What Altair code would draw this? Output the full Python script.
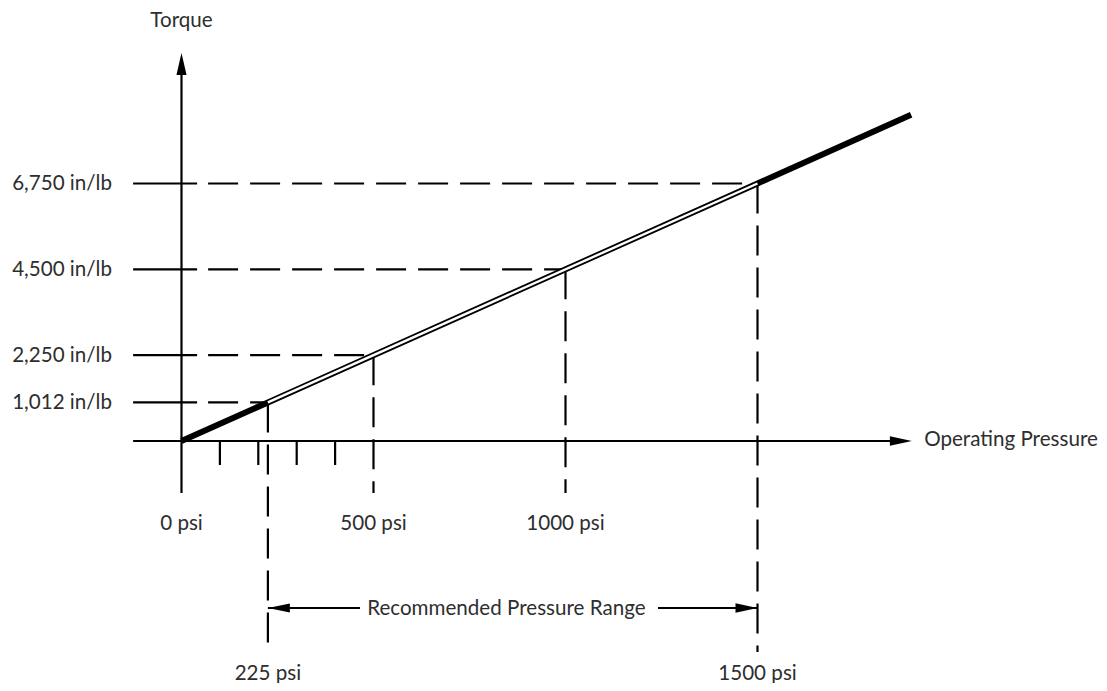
import altair as alt
import pandas as pd

# ---------------- data ----------------
mark_pressure = [225, 500, 1000, 1500]          # psi
mark_torque = [1012, 2250, 4500, 6750]          # in/lb
torque_labels = ["1,012 in/lb", "2,250 in/lb", "4,500 in/lb", "6,750 in/lb"]
minor_ticks = [100, 200, 300, 400]               # psi
upper_psi = [0, 500, 1000]
upper_psi_labels = ["0 psi", "500 psi", "1000 psi"]
lower_psi = [225, 1500]
lower_psi_labels = ["225 psi", "1500 psi"]
curve_pressure = [0, 225, 1500, 1900]
curve_torque = [0, 1012, 6750, 8550]
range_low, range_high = 225, 1500

# ---------------- layout constants (data units) ----------------
XMIN, XMAX = -451.8, 2389.3
YMIN, YMAX = -6343, 11350
AX_LEFT = -126          # left end of x axis / dashed guides
AX_RIGHT = 1902         # x arrow tip
AX_BOTTOM = -1363       # bottom of y axis
AX_TOP = 10170          # y arrow tip
TICK_BOTTOM = -629
LONG_BOTTOM = -5531
ARROW_Y = -4377
INK = "black"
TXT = "#2e2e2e"
FONT = "Lato"
FS = 20.6

xs = alt.Scale(domain=[XMIN, XMAX], nice=False, zero=False)
ys = alt.Scale(domain=[YMIN, YMAX], nice=False, zero=False)


def X(f="p"):
    return alt.X(f + ":Q", scale=xs, axis=None)


def Y(f="t"):
    return alt.Y(f + ":Q", scale=ys, axis=None)


# axes
axes_df = pd.DataFrame({
    "p": [AX_LEFT, 0], "t": [0, AX_BOTTOM],
    "p2": [AX_RIGHT - 40, 0], "t2": [0, AX_TOP - 400],
})
axes = alt.Chart(axes_df).mark_rule(color=INK, strokeWidth=2.2).encode(
    x=X(), y=Y(), x2="p2:Q", y2="t2:Q")

ticks_df = pd.DataFrame({"p": minor_ticks, "t": [0] * 4, "t2": [TICK_BOTTOM] * 4})
ticks = alt.Chart(ticks_df).mark_rule(color=INK, strokeWidth=2.2).encode(
    x=X(), y=Y(), y2="t2:Q")

dash_h = [64, 11] + [30, 12] * 30
hdf = pd.DataFrame({"p": [AX_LEFT] * 4, "p2": mark_pressure, "t": mark_torque})
hdash = alt.Chart(hdf).mark_rule(color=INK, strokeWidth=2.2, strokeDash=dash_h).encode(
    x=X(), x2="p2:Q", y=Y())

vdf = pd.DataFrame({
    "p": mark_pressure, "t": mark_torque,
    "t2": [LONG_BOTTOM, AX_BOTTOM, AX_BOTTOM, LONG_BOTTOM],
})
vdash = alt.Chart(vdf).mark_rule(color=INK, strokeWidth=2.2, strokeDash=[30, 12]).encode(
    x=X(), y=Y(), y2="t2:Q")

cdf = pd.DataFrame({"p": curve_pressure, "t": curve_torque})
curve = alt.Chart(cdf).mark_line(color=INK, strokeWidth=6, strokeCap="butt").encode(
    x=X(), y=Y(), order="p:Q")
idf = cdf[(cdf.p >= range_low) & (cdf.p <= range_high)]
inner = alt.Chart(idf).mark_line(color="white", strokeWidth=2.4, strokeCap="butt").encode(
    x=X(), y=Y(), order="p:Q")

# range arrow shafts
sdf = pd.DataFrame({"p": [range_low, 1241], "p2": [465, range_high], "t": [ARROW_Y, ARROW_Y]})
shafts = alt.Chart(sdf).mark_rule(color=INK, strokeWidth=2.2).encode(
    x=X(), x2="p2:Q", y=Y())

HEAD = 1936
right_heads = alt.Chart(pd.DataFrame({"p": [AX_RIGHT, range_high], "t": [0, ARROW_Y]})).mark_point(
    shape="M0,0L-1,-0.22L-1,0.22Z", filled=True, color=INK, opacity=1, size=HEAD, strokeWidth=0
).encode(x=X(), y=Y())
left_heads = alt.Chart(pd.DataFrame({"p": [range_low], "t": [ARROW_Y]})).mark_point(
    shape="M0,0L1,-0.2L1,0.2Z", filled=True, color=INK, opacity=1, size=HEAD, strokeWidth=0
).encode(x=X(), y=Y())
up_heads = alt.Chart(pd.DataFrame({"p": [0], "t": [AX_TOP]})).mark_point(
    shape="M0,0L-0.23,1L0.23,1Z", filled=True, color=INK, opacity=1, size=HEAD, strokeWidth=0
).encode(x=X(), y=Y())

# texts
def text_layer(df, align, dy=0):
    return alt.Chart(df).mark_text(
        font=FONT, fontSize=FS, color=TXT, align=align, baseline="alphabetic", dy=dy
    ).encode(x=X(), y=Y(), text="label:N")


ylab = text_layer(pd.DataFrame({"p": [-181] * 4, "t": mark_torque, "label": torque_labels}), "right", 7)
uplab = text_layer(pd.DataFrame({"p": upper_psi, "t": [-2333] * 3, "label": upper_psi_labels}), "center")
lowlab = text_layer(pd.DataFrame({"p": lower_psi, "t": [-6265] * 2, "label": lower_psi_labels}), "center")
torque_t = text_layer(pd.DataFrame({"p": [0], "t": [10860], "label": ["Torque"]}), "center")
op_t = text_layer(pd.DataFrame({"p": [1934], "t": [0], "label": ["Operating Pressure"]}), "left", 5)
rec_t = text_layer(pd.DataFrame({"p": [846], "t": [ARROW_Y], "label": ["Recommended Pressure Range"]}), "center", 7)

chart = alt.layer(
    hdash, vdash, ticks, axes, shafts, curve, inner,
    right_heads, left_heads, up_heads,
    ylab, uplab, lowlab, torque_t, op_t, rec_t,
).properties(
    width=1091, height=675, padding=0,
    autosize=alt.AutoSizeParams(type="none"),
    background="white",
).configure_view(stroke=None)

chart.save("out.html", embed_options={"renderer": "svg", "actions": False})
